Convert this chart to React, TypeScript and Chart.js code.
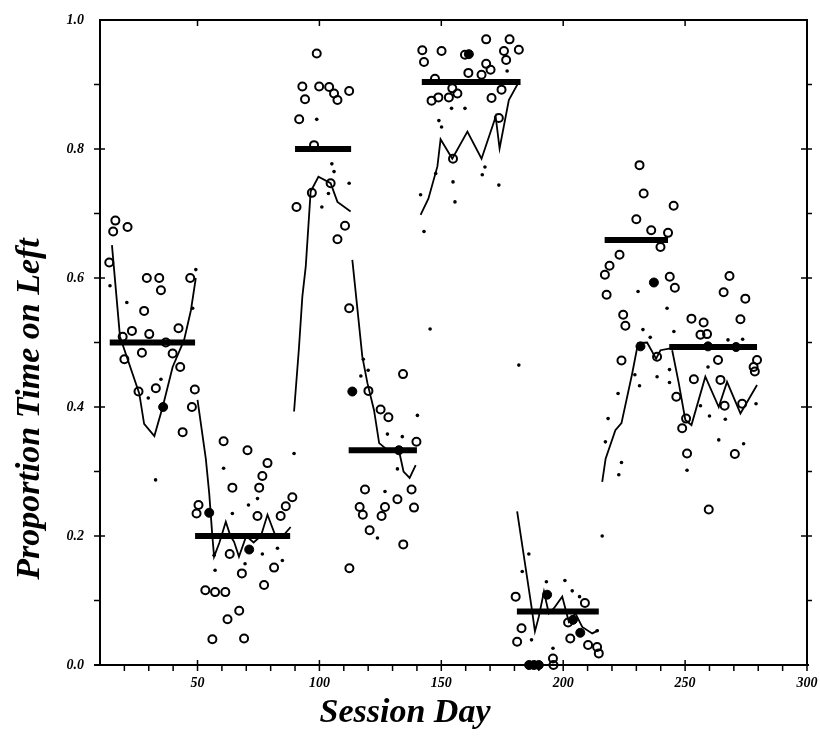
import { useEffect, useRef } from 'react';
import { Chart, registerables } from 'chart.js';

Chart.register(...registerables);

const SERIF = "'Liberation Serif', 'Times New Roman', serif";

// Axis tick labels
const xTickLabels = [50, 100, 150, 200, 250, 300];
const yTickLabels = [0, 0.2, 0.4, 0.6, 0.8, 1.0];

// Criterion (target) levels per phase
const barStarts = [14, 49, 90, 112, 142, 181, 217, 243.5];
const barEnds = [49, 88, 113, 140, 182.5, 214.6, 243, 279.5];
const barLevels = [0.5, 0.2, 0.8, 0.333, 0.904, 0.083, 0.659, 0.493];

// Open circles (session values)
const openCircles: [number, number][] = [
  [16.3, 0.689], [15.4, 0.672], [21.3, 0.679], [13.8, 0.624], [29.2, 0.6], [34.3, 0.6], [35, 0.581], [47, 0.6],
  [28.1, 0.549], [23.1, 0.518], [30.2, 0.513], [42.2, 0.522], [19.3, 0.509], [27.2, 0.484], [39.8, 0.483], [20, 0.474],
  [42.9, 0.462], [25.8, 0.424], [32.9, 0.429], [48.9, 0.427], [47.7, 0.4], [43.9, 0.361], [37, 0.5],
  [60.7, 0.347], [70.5, 0.333], [78.7, 0.313], [76.6, 0.293], [64.3, 0.275], [75.3, 0.275], [88.9, 0.26], [86.2, 0.246],
  [50.4, 0.248], [49.6, 0.235], [74.6, 0.231], [84.1, 0.231], [63.2, 0.172], [81.4, 0.151], [68.2, 0.142], [77.3, 0.124],
  [53.2, 0.116], [57.2, 0.113], [61.4, 0.113], [67.1, 0.084], [62.3, 0.071], [56.1, 0.04], [69.1, 0.041],
  [98.9, 0.948], [93, 0.897], [94.1, 0.877], [99.9, 0.897], [104, 0.896], [106, 0.886], [107.4, 0.876], [112.2, 0.89],
  [91.7, 0.846], [97.8, 0.806], [104.6, 0.747], [96.9, 0.732], [90.6, 0.71], [110.5, 0.681], [107.4, 0.66],
  [112.2, 0.553], [120.1, 0.425], [134.3, 0.451], [125.1, 0.396], [128.3, 0.384], [139.8, 0.346], [118.7, 0.272],
  [137.8, 0.272], [132, 0.257], [116.5, 0.245], [126.9, 0.245], [138.8, 0.244], [117.8, 0.233], [125.5, 0.231],
  [120.6, 0.209], [134.4, 0.187], [112.3, 0.15],
  [168.4, 0.97], [178, 0.97], [142.2, 0.953], [150.1, 0.952], [142.9, 0.935], [159.7, 0.946], [175.7, 0.952],
  [181.8, 0.954], [176.6, 0.938], [168.4, 0.932], [170.2, 0.923], [161.1, 0.918], [166.5, 0.915], [147.4, 0.909],
  [154.5, 0.894], [156.6, 0.886], [153.1, 0.88], [148.8, 0.88], [146, 0.875], [174.7, 0.892], [170.6, 0.879],
  [173.6, 0.848], [154.8, 0.785],
  [180.5, 0.106], [208.9, 0.096], [182.9, 0.057], [181.1, 0.036], [202, 0.066], [202.9, 0.041], [210.2, 0.031],
  [213.9, 0.028], [214.6, 0.018], [195.8, 0.01], [196, 0],
  [231.3, 0.775], [233, 0.731], [230, 0.691], [236.1, 0.674], [243, 0.67], [239.9, 0.648], [223.1, 0.636], [219, 0.619],
  [217.1, 0.605], [217.8, 0.574], [243.7, 0.602], [224.6, 0.543], [225.5, 0.526], [223.9, 0.472], [238.5, 0.478],
  [245.3, 0.712], [245.8, 0.585], [268.2, 0.603], [265.8, 0.578], [274.7, 0.568], [252.6, 0.537], [257.6, 0.531],
  [272.7, 0.536], [256.3, 0.512], [259, 0.513], [263.5, 0.473], [279.5, 0.473], [278.1, 0.462], [278.6, 0.455],
  [253.6, 0.443], [264.5, 0.442], [246.4, 0.416], [266.2, 0.402], [273.4, 0.405], [250.4, 0.382], [248.8, 0.367],
  [250.8, 0.328], [270.4, 0.327], [259.7, 0.241],
];

// Filled (overlapping) circles
const filledCircles: [number, number][] = [
  [35.9, 0.4], [54.8, 0.236], [71.2, 0.179], [113.5, 0.424], [161.3, 0.947], [132.6, 0.333],
  [193.4, 0.109], [204, 0.07], [207, 0.05], [186, 0], [188, 0], [190, 0],
  [237.2, 0.593], [231.7, 0.494], [259.4, 0.494], [270.9, 0.493],
];

// Small dots (second measure)
const smallDots: [number, number][] = [
  [49.3, 0.613], [21, 0.562], [14.1, 0.588], [35, 0.443], [29.8, 0.414], [48, 0.553], [32.8, 0.287],
  [89.6, 0.328], [60.7, 0.305], [74.6, 0.258], [70.9, 0.248], [64.3, 0.235], [76.6, 0.172], [82.8, 0.181],
  [84.8, 0.162], [57.2, 0.147], [69.5, 0.157], [56.8, 0.17],
  [98.9, 0.846], [105.1, 0.777], [106, 0.765], [112.2, 0.747], [101, 0.71], [103.7, 0.731],
  [118, 0.474], [120, 0.457], [117, 0.448], [140.2, 0.387], [127.9, 0.358], [134, 0.354], [132, 0.304],
  [126.9, 0.269], [123.8, 0.197],
  [145.4, 0.521], [177, 0.921], [154.2, 0.863], [159.7, 0.863], [149, 0.844], [150.1, 0.834], [147.7, 0.762],
  [167.9, 0.772], [166.8, 0.76], [154.8, 0.749], [173.6, 0.744], [141.5, 0.729], [155.6, 0.718], [142.9, 0.672],
  [181.8, 0.465], [185.9, 0.172], [183.2, 0.145], [193.1, 0.129], [200.7, 0.131], [203.7, 0.115], [206.7, 0.106],
  [187, 0.039], [195.8, 0.026], [213.9, 0.053],
  [216, 0.2], [217.3, 0.346], [223.9, 0.314], [222.8, 0.295], [230.7, 0.579], [242.6, 0.553], [232.7, 0.52],
  [235.7, 0.508], [229.4, 0.45], [238.5, 0.447], [231.3, 0.433], [222.5, 0.421], [218.4, 0.382],
  [245.4, 0.517], [243.6, 0.438], [267.6, 0.504], [273.6, 0.505], [259.4, 0.462], [256.3, 0.402], [260, 0.386],
  [266.5, 0.381], [279.1, 0.405], [263.8, 0.349], [274, 0.343], [250.8, 0.302], [243.6, 0.458],
];

// Running curves per phase
const curve1: [number, number][] = [[14.9, 0.651], [18.2, 0.509], [26.1, 0.421], [28.1, 0.374], [32.3, 0.355], [35.7, 0.4], [39.8, 0.462], [44.5, 0.504], [47.3, 0.55], [49.3, 0.6]];
const curve2: [number, number][] = [[50, 0.411], [53.4, 0.32], [54.8, 0.266], [56.1, 0.199], [56.8, 0.168], [59, 0.19], [61.6, 0.222], [63.5, 0.2], [65, 0.191], [67, 0.168], [70, 0.2], [73, 0.19], [76, 0.2], [78.7, 0.233], [82, 0.2], [85, 0.2], [88.2, 0.214]];
const curve3: [number, number][] = [[89.6, 0.393], [91.6, 0.491], [93, 0.571], [94.4, 0.618], [96.4, 0.734], [99.6, 0.757], [104.6, 0.747], [107.4, 0.718], [112.8, 0.703]];
const curve4: [number, number][] = [[113.5, 0.628], [115.2, 0.566], [117.6, 0.478], [119.7, 0.437], [122.4, 0.395], [124.5, 0.344], [128, 0.333], [132.6, 0.333], [134.5, 0.3], [137, 0.29], [139.5, 0.31]];
const curve5: [number, number][] = [[141.5, 0.698], [144.7, 0.723], [148.4, 0.773], [149.7, 0.815], [154.5, 0.785], [160.7, 0.827], [166.5, 0.785], [172.3, 0.85], [173.9, 0.801], [177.7, 0.876], [181.8, 0.904]];
const curve6: [number, number][] = [[181.1, 0.238], [183.9, 0.168], [187, 0.09], [188.4, 0.052], [190, 0.075], [192.1, 0.114], [194.1, 0.08], [196.2, 0.088], [199.6, 0.106], [202.3, 0.067], [205, 0.08], [207.8, 0.059], [211.9, 0.049], [214.6, 0.054]];
const curve7: [number, number][] = [[216, 0.284], [217.4, 0.32], [221.4, 0.364], [223.9, 0.375], [228.3, 0.452], [230.7, 0.499], [234.4, 0.5], [238.1, 0.475], [239.9, 0.488], [244, 0.491]];
const curve8: [number, number][] = [[244.7, 0.488], [247.4, 0.437], [250.1, 0.38], [252.6, 0.372], [258.3, 0.447], [263.8, 0.4], [267.2, 0.439], [272.7, 0.39], [279.5, 0.434]];
const curves = [curve1, curve2, curve3, curve4, curve5, curve6, curve7, curve8];

const X_MIN = 10;
const X_MAX = 300;

const toPts = (arr: [number, number][]) => arr.map(([x, y]) => ({ x, y }));

const framePlugin = {
  id: 'frame',
  afterDraw(chart: any) {
    const { ctx, chartArea, scales } = chart;
    const { left, right, top, bottom } = chartArea;
    const xs = scales.x;
    const ys = scales.y;
    ctx.save();
    ctx.strokeStyle = '#000';
    ctx.lineWidth = 2;
    ctx.beginPath();
    ctx.moveTo(left - 6, bottom);
    ctx.lineTo(right + 2, bottom);
    ctx.moveTo(left, bottom);
    ctx.lineTo(left, top);
    ctx.lineTo(right, top);
    ctx.lineTo(right, bottom);
    ctx.stroke();
    ctx.lineWidth = 1.5;
    // x ticks (minor every 10, major every 50)
    for (let v = 20; v <= X_MAX; v += 10) {
      const px = xs.getPixelForValue(v);
      const major = v % 50 === 0;
      ctx.beginPath();
      ctx.moveTo(px, major ? bottom - 5 : bottom);
      ctx.lineTo(px, bottom + 6);
      if (major && v < X_MAX) {
        ctx.moveTo(px, top);
        ctx.lineTo(px, top + 6);
      }
      ctx.stroke();
    }
    // y ticks (minor every 0.1, major every 0.2)
    for (let i = 1; i < 10; i++) {
      const v = i / 10;
      const py = ys.getPixelForValue(v);
      const major = i % 2 === 0;
      ctx.beginPath();
      ctx.moveTo(left - 6, py);
      ctx.lineTo(left + (major ? 5 : 0), py);
      ctx.moveTo(right - (major ? 6 : 0), py);
      ctx.lineTo(right + 5, py);
      ctx.stroke();
    }
    // axis titles
    ctx.fillStyle = '#000';
    ctx.font = `italic bold 34px ${SERIF}`;
    ctx.textAlign = 'center';
    ctx.textBaseline = 'middle';
    ctx.fillText('Session Day', 405, 713);
    ctx.translate(30, 409);
    ctx.rotate(-Math.PI / 2);
    ctx.fillText('Proportion Time on Left', 0, 0);
    ctx.restore();
  },
};

export default function App() {
  const ref = useRef<HTMLCanvasElement>(null);

  useEffect(() => {
    if (!ref.current) return;
    const datasets: any[] = [];
    barLevels.forEach((lvl, i) => {
      datasets.push({
        type: 'line',
        data: [{ x: barStarts[i], y: lvl }, { x: barEnds[i], y: lvl }],
        borderColor: '#000',
        borderWidth: 6,
        pointRadius: 0,
        borderCapStyle: 'butt',
        clip: false,
      });
    });
    curves.forEach((c) => {
      datasets.push({
        type: 'line',
        data: toPts(c),
        borderColor: '#000',
        borderWidth: 1.8,
        pointRadius: 0,
        tension: 0,
        clip: false,
      });
    });
    datasets.push({
      type: 'scatter',
      data: toPts(openCircles),
      pointRadius: 4,
      borderWidth: 2,
      borderColor: '#000',
      backgroundColor: 'rgba(0,0,0,0)',
      clip: false,
    });
    datasets.push({
      type: 'scatter',
      data: toPts(filledCircles),
      pointRadius: 4.5,
      borderWidth: 1,
      borderColor: '#000',
      backgroundColor: '#000',
      clip: false,
    });
    datasets.push({
      type: 'scatter',
      data: toPts(smallDots),
      pointRadius: 1.8,
      borderWidth: 0,
      backgroundColor: '#000',
      clip: false,
    });

    const chart = new Chart(ref.current, {
      type: 'scatter',
      data: { datasets },
      plugins: [framePlugin],
      options: {
        animation: false,
        responsive: false,
        maintainAspectRatio: false,
        layout: { padding: { top: 20, right: 13, left: 0, bottom: 0 } },
        plugins: { legend: { display: false }, tooltip: { enabled: false } },
        scales: {
          x: {
            type: 'linear',
            min: X_MIN,
            max: X_MAX,
            grid: { display: false, drawTicks: false },
            border: { display: false },
            afterBuildTicks: (s: any) => {
              s.ticks = xTickLabels.map((v) => ({ value: v }));
            },
            afterFit: (s: any) => {
              s.height = 71;
              s.paddingLeft = 0;
              s.paddingRight = 0;
            },
            ticks: {
              padding: 10,
              color: '#000',
              maxRotation: 0,
              autoSkip: false,
              font: { family: SERIF, size: 14, weight: 'bold', style: 'italic' },
              callback: (v: any) => String(v),
            },
          },
          y: {
            type: 'linear',
            min: 0,
            max: 1,
            grid: { display: false, drawTicks: false },
            border: { display: false },
            afterBuildTicks: (s: any) => {
              s.ticks = yTickLabels.map((v) => ({ value: v }));
            },
            afterFit: (s: any) => {
              s.width = 100;
              s.paddingTop = 0;
              s.paddingBottom = 0;
            },
            ticks: {
              padding: 16,
              color: '#000',
              autoSkip: false,
              font: { family: SERIF, size: 14, weight: 'bold', style: 'italic' },
              callback: (v: any) => Number(v).toFixed(1),
            },
          },
        },
      } as any,
    });
    return () => chart.destroy();
  }, []);

  return (
    <div style={{ position: 'absolute', left: 0, top: 0, width: 820, height: 736, background: '#fff' }}>
      <canvas ref={ref} width={820} height={736} style={{ display: 'block' }} />
    </div>
  );
}
